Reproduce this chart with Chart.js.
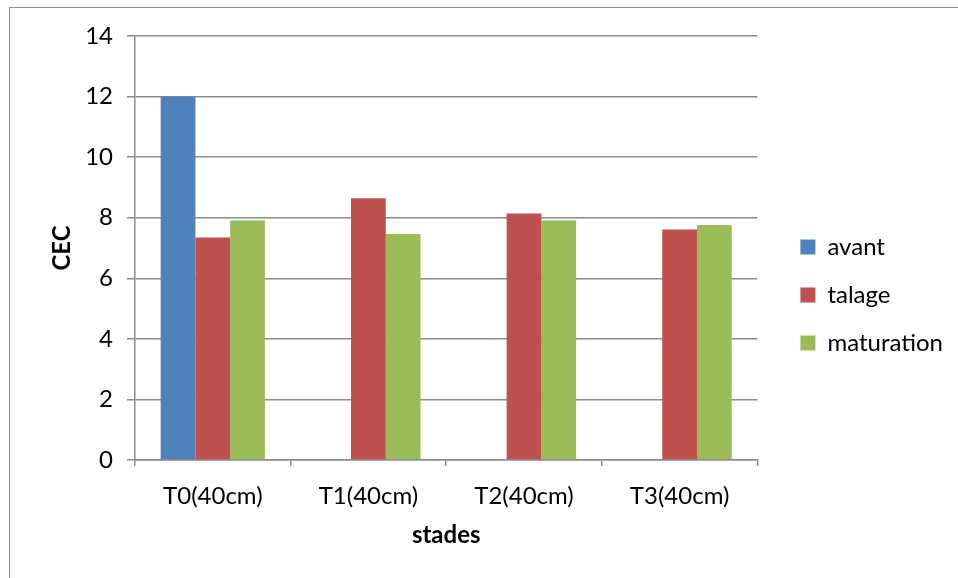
<!DOCTYPE html>
<html>
<head>
<meta charset="utf-8">
<script src="https://cdn.jsdelivr.net/npm/chart.js@4.4.1/dist/chart.umd.min.js"></script>
<style>
  html, body { margin: 0; padding: 0; background: #fff; }
  #wrap { position: relative; width: 958px; height: 578px; overflow: hidden; }
  #cadre { position: absolute; left: 9px; top: 7px; width: 1000px; height: 700px; border: 1px solid #8c8c8c; }
  #chartCEC { position: absolute; left: 0; top: 0; }
</style>
</head>
<body>
<div id="wrap">
  <div id="cadre"></div>
  <canvas id="chartCEC" width="958" height="578"></canvas>
</div>
<script>
// stades et valeurs de CEC
const stades = ["T0(40cm)", "T1(40cm)", "T2(40cm)", "T3(40cm)"];
const avant = [12, null, null, null];
const talage = [7.35, 8.64, 8.14, 7.61];
const maturation = [7.91, 7.46, 7.91, 7.76];
const yTicks = [0, 2, 4, 6, 8, 10, 12, 14];

const police = "Lato, 'Open Sans', sans-serif";
const gris = "#8c8c8c";

new Chart(document.getElementById("chartCEC"), {
    type: "bar",
    data: {
        labels: stades,
        datasets: [
            { label: "avant", data: avant, backgroundColor: "#4f81bd" },
            { label: "talage", data: talage, backgroundColor: "#c0504d" },
            { label: "maturation", data: maturation, backgroundColor: "#9bbb59" }
        ]
    },
    options: {
        responsive: false,
        animation: false,
        layout: { padding: { top: 36, right: 5, left: 0, bottom: 24 } },
        datasets: {
            bar: { categoryPercentage: 0.67, barPercentage: 1.0, borderWidth: 0 }
        },
        scales: {
            x: {
                grid: { drawOnChartArea: false, drawTicks: true, tickLength: 6, color: gris, lineWidth: 1.5 },
                border: { color: gris, width: 1.5 },
                ticks: { color: "#000", font: { family: police, size: 24 }, padding: 16, maxRotation: 0 },
                title: { display: true, text: "stades", color: "#000", font: { family: police, size: 24, weight: "bold" }, padding: { top: 0, bottom: 4 } },
                afterFit: function (scale) { scale.height = 94; }
            },
            y: {
                min: 0,
                max: 14,
                afterBuildTicks: function (scale) { scale.ticks = yTicks.map(v => ({ value: v })); },
                grid: { color: gris, lineWidth: 1.5, tickLength: 8 },
                border: { color: gris, width: 1.5 },
                ticks: { color: "#000", font: { family: police, size: 24 }, padding: 14 },
                title: { display: true, text: "CEC", color: "#000", font: { family: police, size: 24, weight: "bold" }, padding: { top: 48, bottom: 0 } },
                afterFit: function (scale) { scale.width = 135; }
            },
            // espace vide entre la zone du graphique et la légende
            marge: {
                type: "linear",
                position: "right",
                grid: { display: false },
                border: { display: false },
                ticks: { display: false },
                afterFit: function (scale) { scale.width = 19; }
            }
        },
        plugins: {
            tooltip: { enabled: false },
            legend: {
                position: "right",
                maxWidth: 300,
                labels: {
                    color: "#000",
                    font: { family: police, size: 24 },
                    boxWidth: 15,
                    boxHeight: 15,
                    padding: 24
                }
            }
        }
    }
});
</script>
</body>
</html>
